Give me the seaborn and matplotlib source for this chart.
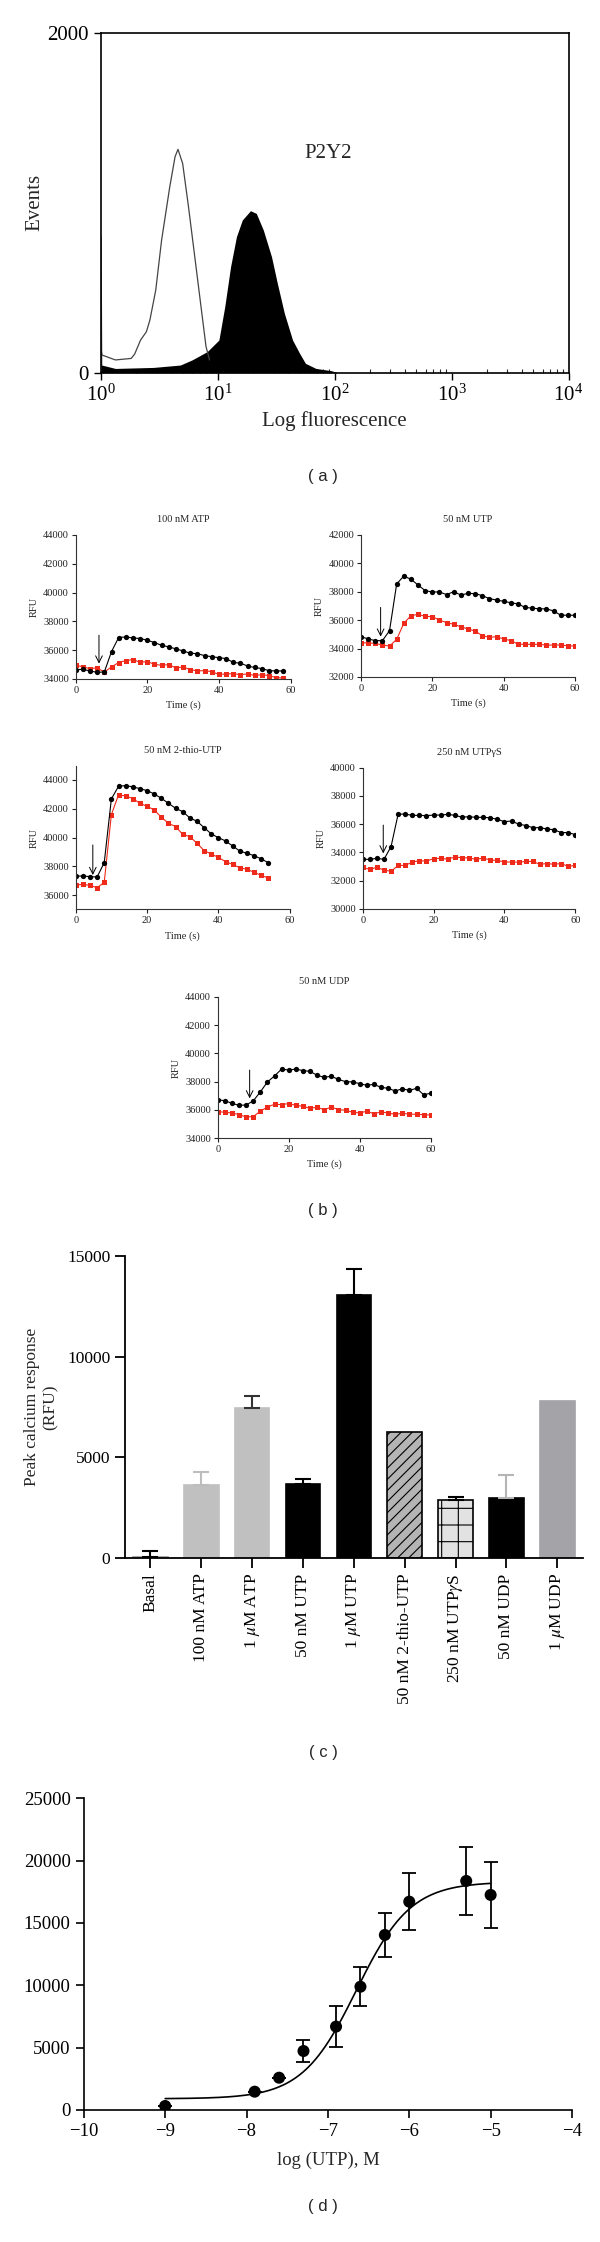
import numpy as np
import matplotlib
matplotlib.use("Agg")
import matplotlib.pyplot as plt
import seaborn as sns

sns.set_theme(style="ticks")
plt.rcParams["font.family"] = ["Liberation Serif", "DejaVu Serif"]
plt.rcParams["mathtext.fontset"] = "stix"
plt.rcParams["hatch.linewidth"] = 0.8

# (a) flow cytometry histogram (log10 fluorescence, events)
open_log = [0.0, 0.01, 0.125, 0.26, 0.29, 0.34, 0.39, 0.42, 0.47, 0.52, 0.59, 0.635, 0.66,
            0.70, 0.75, 0.80, 0.85, 0.90, 0.93]
open_events = [150, 104, 75, 84, 110, 192, 241, 310, 486, 780, 1094, 1270, 1314,
               1231, 976, 702, 427, 153, 75]
fill_log = [0.0, 0.004, 0.008, 0.125, 0.45, 0.68, 0.78, 0.91, 1.01, 1.06, 1.11, 1.16, 1.21,
            1.28, 1.33, 1.39, 1.46, 1.51, 1.57, 1.64, 1.70, 1.75, 1.84, 1.97, 2.03]
fill_events = [810, 810, 45, 25, 31, 45, 75, 124, 192, 388, 624, 800, 898,
               953, 937, 839, 682, 525, 349, 192, 114, 55, 25, 12, 0]

# (b) calcium traces, RFU every 2 s
t_58 = [0, 2, 4, 6, 8, 10, 12, 14, 16, 18, 20, 22, 24, 26, 28, 30, 32, 34, 36, 38, 40,
        42, 44, 46, 48, 50, 52, 54, 56, 58]
t_60 = t_58 + [60]
t_54 = t_58[:28]

atp_black = [34650, 34670, 34560, 34460, 34490, 35900, 36880, 36920, 36850, 36810, 36690,
             36530, 36340, 36230, 36090, 35950, 35790, 35760, 35620, 35550, 35480, 35420,
             35150, 35100, 34900, 34800, 34720, 34580, 34560, 34560]
atp_red = [34970, 34840, 34720, 34770, 34480, 34840, 35140, 35280, 35350, 35160, 35210,
           35020, 34950, 35000, 34770, 34840, 34650, 34560, 34580, 34510, 34320, 34350,
           34370, 34300, 34350, 34250, 34300, 34230, 34100, 34060]
utp_black = [34840, 34680, 34560, 34560, 35260, 38550, 39110, 38880, 38480, 38080, 37990,
             37990, 37800, 38010, 37770, 37890, 37870, 37730, 37520, 37420, 37330, 37230,
             37150, 36900, 36850, 36800, 36800, 36650, 36350, 36350, 36350]
utp_red = [34420, 34390, 34370, 34250, 34180, 34650, 35780, 36320, 36410, 36270, 36250,
           36010, 35830, 35710, 35540, 35380, 35240, 34910, 34790, 34840, 34680, 34560,
           34320, 34300, 34300, 34300, 34250, 34250, 34250, 34200, 34180]
thio_black = [37320, 37320, 37280, 37250, 38250, 42680, 43560, 43610, 43520, 43400, 43260,
              43030, 42730, 42380, 42030, 41800, 41360, 41130, 40690, 40250, 39990, 39760,
              39410, 39060, 38900, 38740, 38510, 38250]
thio_red = [36700, 36740, 36670, 36510, 36880, 41590, 42960, 42890, 42710, 42380, 42170,
            41920, 41410, 40990, 40760, 40220, 40060, 39600, 39090, 38850, 38620, 38320,
            38130, 37900, 37790, 37580, 37370, 37180]
gs_black = [33500, 33500, 33570, 33500, 34400, 36710, 36710, 36620, 36620, 36600, 36640,
            36640, 36690, 36620, 36500, 36520, 36480, 36480, 36450, 36340, 36170, 36220,
            36000, 35900, 35750, 35750, 35650, 35600, 35400, 35400, 35250]
gs_red = [32930, 32790, 32930, 32740, 32650, 33070, 33070, 33310, 33400, 33380, 33550,
          33570, 33520, 33660, 33620, 33590, 33500, 33590, 33450, 33430, 33310, 33310,
          33300, 33350, 33350, 33150, 33200, 33150, 33200, 33000, 33080]
udp_black = [36710, 36660, 36470, 36330, 36350, 36640, 37270, 37980, 38400, 38890, 38820,
             38890, 38780, 38730, 38450, 38310, 38380, 38160, 38000, 37980, 37860, 37740,
             37810, 37600, 37530, 37340, 37500, 37380, 37530, 37080, 37180]
udp_red = [35880, 35840, 35790, 35670, 35510, 35530, 35910, 36210, 36400, 36380, 36450,
           36330, 36260, 36120, 36190, 36020, 36210, 36020, 35980, 35840, 35790, 35910,
           35740, 35860, 35790, 35690, 35760, 35710, 35690, 35670, 35640]

trace_titles = ["100 nM ATP", "50 nM UTP", "50 nM 2-thio-UTP", "250 nM UTP\u03b3S", "50 nM UDP"]
# agonist addition arrows: (time, RFU start, RFU end)
arrow_marks = [(6.5, 37040, 35070), (5.5, 36900, 34840), (4.8, 39480, 37390),
               (5.8, 35930, 33920), (9.0, 38820, 36820)]

# (c) peak calcium response
agonists = ["Basal", "100 nM ATP", "1 $\\mu$M ATP", "50 nM UTP", "1 $\\mu$M UTP",
            "50 nM 2-thio-UTP", "250 nM UTP$\\gamma$S", "50 nM UDP", "1 $\\mu$M UDP"]
peak_rfu = [50, 3630, 7465, 3665, 13056, 6272, 2863, 2983, 7806]
peak_err = [300, 650, 560, 270, 1280, 0, 170, 1125, 0]

# (d) UTP concentration response
log_utp = [-9.0, -7.9, -7.6, -7.3, -6.9, -6.6, -6.3, -6.0, -5.3, -5.0]
resp = [320, 1470, 2590, 4730, 6690, 9890, 14040, 16710, 18370, 17250]
resp_err = [0, 0, 0, 870, 1620, 1540, 1740, 2270, 2750, 2670]
fit_bottom, fit_top, fit_logec50, fit_hill = 900, 18300, -6.65, 1.3

W, H = 600, 2242
fig = plt.figure(figsize=(W / 100, H / 100), dpi=100)


def rect(l, t, r, b):
    return [l / W, 1 - b / H, (r - l) / W, (b - t) / H]


# ---------------- (a)
ax = fig.add_axes(rect(100.8, 32.7, 568.5, 372.7))
ax.fill_between(10 ** np.array(fill_log), fill_events, color="black", lw=0)
sns.lineplot(x=10 ** np.array(open_log), y=open_events, ax=ax, color="#444444", lw=0.9,
             sort=False)
ax.set_xscale("log")
ax.set_xlim(1, 1e4)
ax.set_ylim(0, 2000)
ax.set_yticks([0, 2000])
for s in ax.spines.values():
    s.set_color("black")
    s.set_linewidth(1.2)
ax.tick_params(labelsize=15, direction="out", length=5, width=1, colors="black")
ax.tick_params(which="minor", direction="in", length=3, width=0.8)
ax.set_ylabel("Events", fontsize=15, labelpad=2)
ax.set_xlabel("Log fluorescence", fontsize=15, labelpad=4)
ax.text(10 ** 1.74, 1290, "P2Y2", fontsize=15, va="center")
fig.text(323 / W, 1 - 477 / H, "( a )", ha="center", va="center",
         family="Liberation Sans", fontsize=12)

# ---------------- (b)
trace_rects = [(75.7, 535, 290.5, 679), (361, 535, 575, 677), (75.7, 765.6, 289.7, 909.4),
               (362.7, 767.7, 575.3, 908.7), (217.7, 996.7, 430.7, 1138.3)]
trace_x = [t_58, t_60, t_54, t_60, t_60]
trace_black = [atp_black, utp_black, thio_black, gs_black, udp_black]
trace_red = [atp_red, utp_red, thio_red, gs_red, udp_red]
trace_ylim = [(34000, 44000), (32000, 42000), (35000, 45000), (30000, 40000), (34000, 44000)]
trace_yticks = [range(34000, 44001, 2000), range(32000, 42001, 2000),
                range(36000, 44001, 2000), range(30000, 40001, 2000),
                range(34000, 44001, 2000)]

for i in range(5):
    ax = fig.add_axes(rect(*trace_rects[i]))
    sns.lineplot(x=trace_x[i], y=trace_red[i], ax=ax, color="#ee2a1b", lw=0.8, marker="s",
                 markersize=3.6, markeredgewidth=0, markerfacecolor="#ee2a1b")
    sns.lineplot(x=trace_x[i], y=trace_black[i], ax=ax, color="black", lw=0.8, marker="o",
                 markersize=3.8, markeredgewidth=0, markerfacecolor="black")
    tx, y0, y1 = arrow_marks[i]
    ax.annotate("", xy=(tx, y1), xytext=(tx, y0),
                arrowprops=dict(arrowstyle="->", lw=0.7, color="black",
                                shrinkA=0, shrinkB=0))
    ax.set_xlim(0, 60)
    ax.set_ylim(*trace_ylim[i])
    ax.set_xticks([0, 20, 40, 60])
    ax.set_yticks(list(trace_yticks[i]))
    sns.despine(ax=ax)
    for s in ax.spines.values():
        s.set_linewidth(0.8)
        s.set_color("#333333")
    ax.tick_params(labelsize=7.5, direction="out", length=3, width=0.8, pad=2,
                   colors="#222222")
    ax.set_title(trace_titles[i], fontsize=7.5, pad=9)
    ax.set_ylabel("RFU", fontsize=7.5, labelpad=3)
    ax.set_xlabel("Time (s)", fontsize=7.5, labelpad=4)

fig.text(323 / W, 1 - 1210 / H, "( b )", ha="center", va="center",
         family="Liberation Sans", fontsize=12)

# ---------------- (c)
ax = fig.add_axes(rect(125, 1256, 582.7, 1558))
bar_colors = ["white", "#c0c0c0", "#c0c0c0", "black", "black", "#b4b4b4", "#e2e2e2",
              "black", "#a3a3a8"]
edge_colors = ["#999999", "#c0c0c0", "#c0c0c0", "black", "black", "black", "black",
               "black", "#a3a3a8"]
hatches = [None, None, None, None, None, "///", "+", None, None]
err_colors = ["black", "#bdbdbd", "#333333", "black", "black", "black", "black",
              "#b5b5b5", "black"]
sns.barplot(x=agonists, y=peak_rfu, hue=agonists, palette=dict(zip(agonists, bar_colors)),
            legend=False, ax=ax, width=0.68, errorbar=None, saturation=1)
for p, ec, h in zip(ax.patches, edge_colors, hatches):
    p.set_edgecolor(ec)
    p.set_linewidth(1.2)
    if h:
        p.set_hatch(h)
for i in range(len(agonists)):
    if peak_err[i] > 0:
        ax.errorbar(i, peak_rfu[i], yerr=[[0], [peak_err[i]]], fmt="none",
                    ecolor=err_colors[i], elinewidth=1.5, capsize=5.5, capthick=1.5)
ax.set_xlim(-0.5, 8.5)
ax.set_ylim(0, 15000)
ax.set_yticks([0, 5000, 10000, 15000])
sns.despine(ax=ax)
for s in ax.spines.values():
    s.set_linewidth(1.3)
    s.set_color("black")
ax.tick_params(labelsize=12.5, direction="out", length=7, width=1.3, colors="black")
ax.tick_params(axis="x", rotation=90, pad=4)
ax.set_ylabel("Peak calcium response\n(RFU)", fontsize=12.5, labelpad=6)
fig.text(323 / W, 1 - 1753 / H, "( c )", ha="center", va="center",
         family="Liberation Sans", fontsize=12)

# ---------------- (d)
ax = fig.add_axes(rect(83.8, 1798.3, 572, 2110))
fit_x = np.linspace(-9, -5, 200)
fit_y = fit_bottom + (fit_top - fit_bottom) / (1 + 10 ** ((fit_logec50 - fit_x) * fit_hill))
sns.lineplot(x=fit_x, y=fit_y, ax=ax, color="black", lw=1.2)
ax.errorbar(log_utp, resp, yerr=resp_err, fmt="none", ecolor="black", elinewidth=1.3,
            capsize=5, capthick=1.3)
sns.scatterplot(x=log_utp, y=resp, ax=ax, color="black", s=75, edgecolor="none", zorder=5)
ax.set_xlim(-10, -4)
ax.set_ylim(0, 25000)
ax.set_xticks(range(-10, -3))
ax.set_yticks(range(0, 25001, 5000))
sns.despine(ax=ax)
for s in ax.spines.values():
    s.set_linewidth(1.2)
    s.set_color("black")
ax.tick_params(labelsize=13.5, direction="out", length=6, width=1.2, colors="black")
ax.set_xlabel("log (UTP), M", fontsize=13.5, labelpad=8)
fig.text(323 / W, 1 - 2207 / H, "( d )", ha="center", va="center",
         family="Liberation Sans", fontsize=12)

fig.savefig("out.png", dpi=100, facecolor="white")
